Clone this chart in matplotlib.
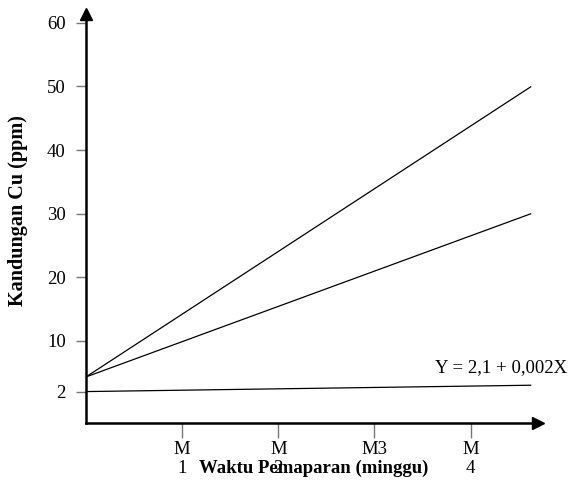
import matplotlib
matplotlib.use("Agg")
import matplotlib.pyplot as plt

# Data
x_points = [0, 4.63]
upper_line = [4.3, 50]
middle_line = [4.3, 30]
lower_line = [2.0, 3.0]
y_ticks = [2, 10, 20, 30, 40, 50, 60]
x_ticks = [1, 2, 3, 4]
x_tick_labels = ["M\n1", "M\n2", "M3", "M\n4"]
equation = "Y = 2,1 + 0,002X"
x_label = "Waktu Pemaparan (minggu)"
y_label = "Kandungan Cu (ppm)"

plt.rcParams['font.family'] = ['Liberation Serif', 'DejaVu Serif']

fig = plt.figure(figsize=(5.69, 4.83), dpi=100)
ax = fig.add_axes([0.151, 0.1248, 0.9455 - 0.151, 0.971 - 0.1248])

for s in (upper_line, middle_line, lower_line):
    ax.plot(x_points, s, color='black', lw=0.9, solid_capstyle='butt')

ax.set_xlim(0, 4.70)
ax.set_ylim(-2.9, 61.4)

for side in ('top', 'right'):
    ax.spines[side].set_visible(False)
for side in ('left', 'bottom'):
    ax.spines[side].set_linewidth(1.8)
    ax.spines[side].set_color('black')

# arrow heads
ax.plot(1, 0, marker='>', color='black', ms=8, transform=ax.transAxes, clip_on=False)
ax.plot(0, 1, marker='^', color='black', ms=8, transform=ax.transAxes, clip_on=False)

ax.set_yticks(y_ticks)
ax.set_yticklabels([str(v) for v in y_ticks], fontsize=13.5)
ax.tick_params(axis='y', length=7.5, width=1.0, color='#777777', pad=7)
ax.set_xticks(x_ticks)
ax.set_xticklabels(x_tick_labels, fontsize=13.5, linespacing=1.1)
ax.tick_params(axis='x', length=10.5, width=1.0, color='#777777', pad=3)

ax.text(3.63, 5.7, equation, ha='left', va='center', fontsize=13.5)

fig.text(0.552, 0.031, x_label, ha='center', va='center', fontsize=13.5, fontweight='bold')
fig.text(0.0325, 0.565, y_label, ha='center', va='center', rotation=90, fontsize=14.5, fontweight='bold')

fig.savefig("out.png", dpi=100)
